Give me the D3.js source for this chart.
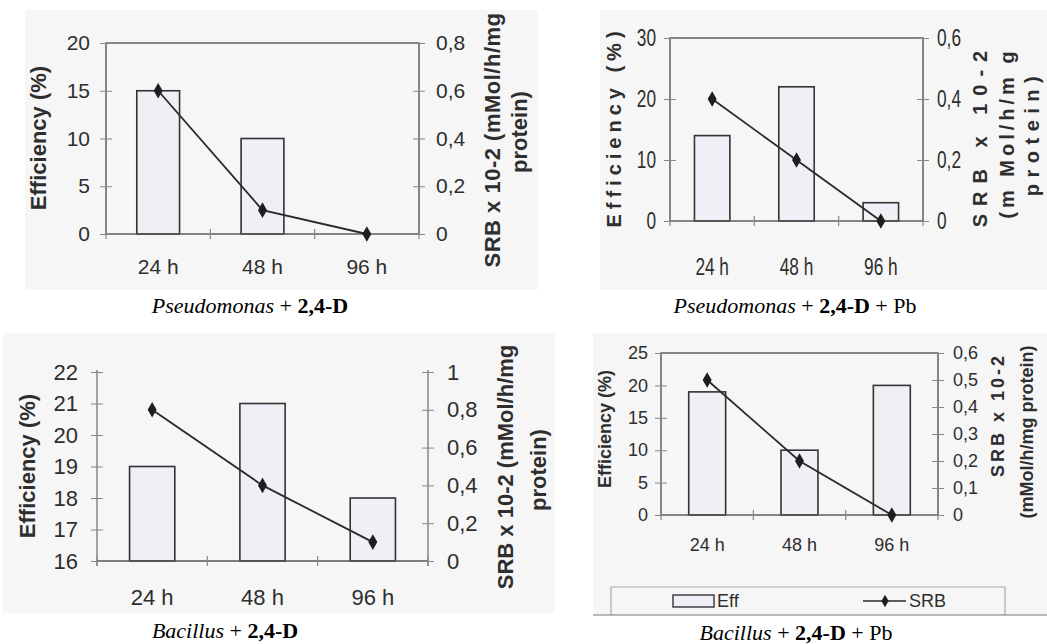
<!DOCTYPE html>
<html>
<head>
<meta charset="utf-8">
<script src="https://cdn.jsdelivr.net/npm/d3@7"></script>
<style>
  body { margin: 0; background: #fff; }
  svg { display: block; }
</style>
</head>
<body>
<svg id="chart" width="1047" height="644"></svg>
<script>
// data
var categories = ["24 h", "48 h", "96 h"];

var effPseudo = [15, 10, 0];
var srbPseudo = [0.6, 0.1, 0];
var effPseudoPb = [14, 22, 3];
var srbPseudoPb = [0.4, 0.2, 0];
var effBacillus = [19, 21, 18];
var srbBacillus = [0.8, 0.4, 0.1];
var effBacillusPb = [19, 10, 20];
var srbBacillusPb = [0.5, 0.2, 0];

var leftTicksPseudo = [0, 5, 10, 15, 20];
var rightTicksPseudo = [0, 0.2, 0.4, 0.6, 0.8];
var leftTicksPseudoPb = [0, 10, 20, 30];
var rightTicksPseudoPb = [0, 0.2, 0.4, 0.6];
var leftTicksBacillus = [16, 17, 18, 19, 20, 21, 22];
var rightTicksBacillus = [0, 0.2, 0.4, 0.6, 0.8, 1];
var leftTicksBacillusPb = [0, 5, 10, 15, 20, 25];
var rightTicksBacillusPb = [0, 0.1, 0.2, 0.3, 0.4, 0.5, 0.6];

var legendLabels = ["Eff", "SRB"];

var sans = "'Liberation Sans', Arial, sans-serif";
var serif = "'Liberation Serif', 'Times New Roman', serif";

var fmt = function(d) { return String(d).replace(".", ","); };

var svg = d3.select("#chart");

// squeeze text horizontally (no narrow font installed)
function squeeze(sel, k) {
  sel.each(function() {
    var len = this.getComputedTextLength();
    d3.select(this).attr("textLength", len * k).attr("lengthAdjust", "spacingAndGlyphs");
  });
}

var panels = [
  { eff: effPseudo, srb: srbPseudo, lt: leftTicksPseudo, rt: rightTicksPseudo,
    L: 106, T: 43, R: 419, B: 234, box: true, bw: 0.41,
    bg: [25, 10, 513, 280], fs: 21, tfs: 22, tls: 0, narrow: 1,
    lpad: 10, rpad: 11, xlab: 33,
    leftTitle: { x: 38, y: 138 },
    rightTitle: [["SRB x 10-2 (mMol/h/mg", 492, 140, 0.5], ["protein)", 519, 132]],
    caption: [["Pseudomonas", "italic", "normal"], [" + ", "normal", "normal"], ["2,4-D", "normal", "bold"]],
    cap: [250, 305] },
  { eff: effPseudoPb, srb: srbPseudoPb, lt: leftTicksPseudoPb, rt: rightTicksPseudoPb,
    L: 670, T: 38, R: 923, B: 221, box: true, bw: 0.42,
    bg: [600, 10, 447, 280], fs: 23, tfs: 20, tls: 5, narrow: 0.75,
    lpad: 8, rpad: 8, xlab: 46,
    leftTitle: { x: 614, y: 127 },
    rightTitle: [["SRB x 10-2", 980, 135, 8], ["(m Mol/h/m g", 1007, 133, 4], ["protein)", 1032, 133, 6.5]],
    caption: [["Pseudomonas", "italic", "normal"], [" + ", "normal", "normal"], ["2,4-D", "normal", "bold"], [" + Pb", "normal", "normal"]],
    cap: [795, 305] },
  { eff: effBacillus, srb: srbBacillus, lt: leftTicksBacillus, rt: rightTicksBacillus,
    L: 97, T: 372, R: 428, B: 561, box: false, bw: 0.41,
    bg: [3, 333, 552, 280], fs: 22, tfs: 22, tls: 0, narrow: 1,
    lpad: 13, rpad: 13, xlab: 36,
    leftTitle: { x: 27, y: 466 },
    rightTitle: [["SRB x 10-2 (mMol/h/mg", 505, 467], ["protein)", 538, 470]],
    caption: [["Bacillus", "italic", "normal"], [" + ", "normal", "normal"], ["2,4-D", "normal", "bold"]],
    cap: [225, 630] },
  { eff: effBacillusPb, srb: srbBacillusPb, lt: leftTicksBacillusPb, rt: rightTicksBacillusPb,
    L: 661, T: 353, R: 938, B: 515, box: true, bw: 0.4,
    bg: [593, 333, 454, 282], fs: 18, tfs: 18, tls: 0, narrow: 1,
    lpad: 7, rpad: 9, xlab: 30,
    leftTitle: { x: 605, y: 429 },
    rightTitle: [["SRB x 10-2", 998, 415, 3], ["(mMol/h/mg protein)", 1027, 432]],
    caption: [["Bacillus", "italic", "normal"], [" + ", "normal", "normal"], ["2,4-D", "normal", "bold"], [" + Pb", "normal", "normal"]],
    cap: [796, 632], legend: true }
];

panels.forEach(function(p) {
  var g = svg.append("g");

  g.append("rect")
    .attr("x", p.bg[0]).attr("y", p.bg[1])
    .attr("width", p.bg[2]).attr("height", p.bg[3])
    .attr("fill", "#f6f6f6");

  var x = d3.scaleBand().domain(categories).range([p.L, p.R]);
  var yL = d3.scaleLinear().domain([p.lt[0], p.lt[p.lt.length - 1]]).range([p.B, p.T]);
  var yR = d3.scaleLinear().domain([p.rt[0], p.rt[p.rt.length - 1]]).range([p.B, p.T]);
  var bw = x.step() * p.bw;

  // bars
  g.selectAll(".bar").data(p.eff).enter().append("rect")
    .attr("x", function(d, i) { return x(categories[i]) + x.step() / 2 - bw / 2; })
    .attr("y", function(d) { return yL(d); })
    .attr("width", bw)
    .attr("height", function(d) { return yL(p.lt[0]) - yL(d); })
    .attr("fill", "#eef0f5")
    .attr("stroke", "#333")
    .attr("stroke-width", 1.6);

  // frame
  if (p.box) {
    g.append("rect")
      .attr("x", p.L).attr("y", p.T)
      .attr("width", p.R - p.L).attr("height", p.B - p.T)
      .attr("fill", "none").attr("stroke", "#555").attr("stroke-width", 1.4);
  } else {
    [p.L, p.R].forEach(function(xx) {
      g.append("line").attr("x1", xx).attr("x2", xx).attr("y1", p.T - 2).attr("y2", p.B + 5)
        .attr("stroke", "#777").attr("stroke-width", 1.3);
    });
    g.append("line").attr("x1", p.L).attr("x2", p.R).attr("y1", p.B).attr("y2", p.B)
      .attr("stroke", "#555").attr("stroke-width", 1.4);
  }

  // left axis
  var gl = g.append("g").attr("transform", "translate(" + p.L + ",0)")
    .call(d3.axisLeft(yL).tickValues(p.lt).tickSize(6).tickPadding(p.lpad).tickFormat(fmt));
  gl.select(".domain").remove();
  gl.selectAll(".tick line").attr("x1", 6).attr("stroke", "#888");
  gl.selectAll("text").style("font-family", sans).style("font-size", p.fs + "px").attr("fill", "#2e2e2e");

  // right axis
  var gr = g.append("g").attr("transform", "translate(" + p.R + ",0)")
    .call(d3.axisRight(yR).tickValues(p.rt).tickSize(6).tickPadding(p.rpad).tickFormat(fmt));
  gr.select(".domain").remove();
  gr.selectAll(".tick line").attr("x1", -6).attr("stroke", "#888");
  gr.selectAll("text").style("font-family", sans).style("font-size", p.fs + "px").attr("fill", "#2e2e2e");

  // category axis: labels centred, ticks at band edges
  var gb = g.append("g").attr("transform", "translate(0," + p.B + ")")
    .call(d3.axisBottom(x).tickSize(0));
  gb.select(".domain").remove();
  gb.selectAll("text").style("font-family", sans).style("font-size", p.fs + "px").attr("fill", "#2e2e2e")
    .attr("dy", "0.35em").attr("y", p.xlab);
  var edges = categories.map(function(c) { return x(c); }).concat([p.R]);
  g.selectAll(".edge").data(edges).enter().append("line")
    .attr("x1", function(d) { return d; }).attr("x2", function(d) { return d; })
    .attr("y1", p.B - 5).attr("y2", p.B + 5)
    .attr("stroke", "#888").attr("stroke-width", 1.2);

  if (p.narrow !== 1) {
    squeeze(gl.selectAll("text"), p.narrow);
    squeeze(gr.selectAll("text"), p.narrow);
    squeeze(gb.selectAll("text"), p.narrow);
  }

  // SRB line
  var line = d3.line()
    .x(function(d, i) { return x(categories[i]) + x.step() / 2; })
    .y(function(d) { return yR(d); });
  g.append("path").datum(p.srb).attr("d", line)
    .attr("fill", "none").attr("stroke", "#2a2a2a").attr("stroke-width", 1.8);
  g.selectAll(".pt").data(p.srb).enter().append("path")
    .attr("d", d3.symbol().type(d3.symbolDiamond).size(70))
    .attr("transform", function(d, i) {
      return "translate(" + (x(categories[i]) + x.step() / 2) + "," + yR(d) + ")";
    })
    .attr("fill", "#1e1e1e");

  // axis titles
  g.append("text")
    .attr("transform", "translate(" + p.leftTitle.x + "," + p.leftTitle.y + ") rotate(-90)")
    .attr("text-anchor", "middle").attr("dominant-baseline", "central")
    .style("font-family", sans).style("font-weight", "bold").style("font-size", p.tfs + "px")
    .style("letter-spacing", p.tls + "px").attr("fill", "#2e2e2e")
    .text("Efficiency (%)");
  p.rightTitle.forEach(function(t) {
    g.append("text")
      .attr("transform", "translate(" + t[1] + "," + t[2] + ") rotate(-90)")
      .attr("text-anchor", "middle").attr("dominant-baseline", "central")
      .style("font-family", sans).style("font-weight", "bold").style("font-size", p.tfs + "px")
      .style("letter-spacing", (t[3] || 0) + "px").attr("fill", "#2e2e2e")
      .text(t[0]);
  });

  // caption
  var cap = svg.append("text").attr("x", p.cap[0]).attr("y", p.cap[1])
    .attr("text-anchor", "middle").attr("dominant-baseline", "central")
    .style("font-family", serif).style("font-size", "22px").attr("fill", "#000");
  p.caption.forEach(function(part) {
    cap.append("tspan").style("font-style", part[1]).style("font-weight", part[2])
      .style("white-space", "pre").text(part[0]);
  });

  if (p.legend) {
    var lg = g.append("g");
    lg.append("path").attr("d", "M611,615 V587 H1005 V615")
      .attr("fill", "none").attr("stroke", "#aaa").attr("stroke-width", 1.2);
    lg.append("line").attr("x1", p.bg[0]).attr("x2", p.bg[0] + p.bg[2]).attr("y1", 615).attr("y2", 615)
      .attr("stroke", "#777").attr("stroke-width", 1.2);
    lg.append("rect").attr("x", 673).attr("y", 595).attr("width", 41).attr("height", 12)
      .attr("fill", "#eef0f5").attr("stroke", "#333").attr("stroke-width", 1.4);
    lg.append("text").attr("x", 717).attr("y", 601).attr("dominant-baseline", "central")
      .style("font-family", sans).style("font-size", "18px").attr("fill", "#2e2e2e").text(legendLabels[0]);
    lg.append("line").attr("x1", 863).attr("x2", 906).attr("y1", 601).attr("y2", 601)
      .attr("stroke", "#2a2a2a").attr("stroke-width", 1.6);
    lg.append("path").attr("d", d3.symbol().type(d3.symbolDiamond).size(45))
      .attr("transform", "translate(885,601)").attr("fill", "#1e1e1e");
    lg.append("text").attr("x", 909).attr("y", 601).attr("dominant-baseline", "central")
      .style("font-family", sans).style("font-size", "18px").attr("fill", "#2e2e2e").text(legendLabels[1]);
  }
});
</script>
</body>
</html>
